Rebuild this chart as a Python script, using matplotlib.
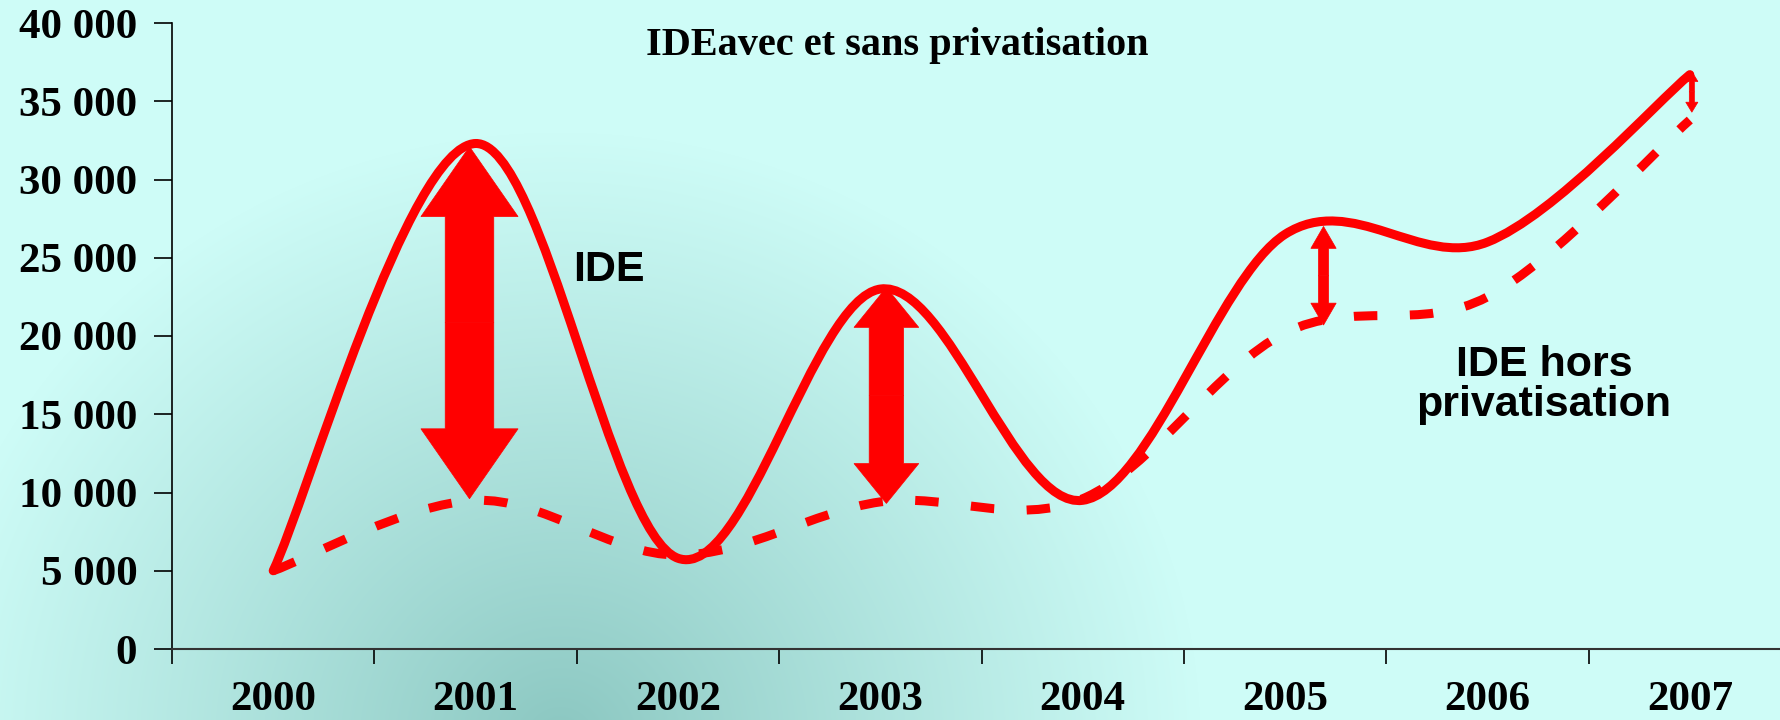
import numpy as np
import matplotlib
matplotlib.use("Agg")
import matplotlib.pyplot as plt
from matplotlib.path import Path
from matplotlib.patches import PathPatch, FancyArrow
from matplotlib.ticker import MultipleLocator, FuncFormatter

# data
years = ["2000", "2001", "2002", "2003", "2004", "2005", "2006", "2007"]
ide = [5000, 32300, 5800, 23000, 9500, 26500, 26000, 36700]
ide_hors_priv = [5000, 9500, 6000, 9400, 9600, 20200, 22500, 33800]
# arrows showing the privatisation gap: (year index, bottom, top)
gap_years = [0.97, 3.03, 5.19, 7.01]
gap_low = [9600, 9300, 20700, 34300]
gap_high = [32100, 23100, 27000, 36900]

red = "#ff0000"
light = np.array([206, 252, 247]) / 255
dark = np.array([138, 198, 192]) / 255


def smooth_path(xs, ys):
    # excel style smoothed line: bezier through the points (catmull-rom)
    pts = np.column_stack([xs, ys]).astype(float)
    n = len(pts)
    verts = [pts[0]]
    codes = [Path.MOVETO]
    for i in range(n - 1):
        p0 = pts[i - 1] if i > 0 else pts[i]
        p1 = pts[i]
        p2 = pts[i + 1]
        p3 = pts[i + 2] if i + 2 < n else pts[i + 1]
        c1 = p1 + (p2 - p0) / 6
        c2 = p2 - (p3 - p1) / 6
        verts += [c1, c2, p2]
        codes += [Path.CURVE4] * 3
    return Path(verts, codes)


fig = plt.figure(figsize=(17.8, 7.2), dpi=100)

# background gradient
bg = fig.add_axes([0, 0, 1, 1])
yy, xx = np.mgrid[0:720, 0:1780]
d = np.hypot((xx - 560) / 1.0, (yy - 740) / 0.95)
t = np.clip(d / 640, 0, 1) ** 0.9
img = dark[None, None, :] + (light - dark)[None, None, :] * t[..., None]
bg.imshow(img, aspect="auto", extent=[0, 1, 0, 1], origin="upper")
bg.axis("off")

ax = fig.add_axes([172 / 1780, 71 / 720, 1619 / 1780, 626 / 720])
ax.patch.set_alpha(0)
x = np.arange(len(years))

p1 = PathPatch(smooth_path(x, ide), fill=False, edgecolor=red, lw=6.5,
               joinstyle="round", capstyle="round")
ax.add_patch(p1)
p2 = PathPatch(smooth_path(x, ide_hors_priv), fill=False, edgecolor=red, lw=6.5,
               linestyle=(0, (2.6, 3.6)), capstyle="butt")
ax.add_patch(p2)

# double headed gap arrows
shaft = [0.24, 0.17, 0.05, 0.025]
heads = [0.48, 0.32, 0.125, 0.06]
hlen = [4470, 2550, 1400, 640]
for gx, lo, hi, w, hw, hl in zip(gap_years, gap_low, gap_high, shaft, heads, hlen):
    mid = (lo + hi) / 2
    for end in (hi, lo):
        ax.add_patch(FancyArrow(gx, mid, 0, end - mid, width=w, head_width=hw,
                                head_length=hl, length_includes_head=True,
                                color=red, lw=0.5))

ax.set_xlim(-0.5, 7.5)
ax.set_ylim(0, 40000)
ax.set_xticks(np.arange(-0.5, 8, 1))
ax.set_xticks(x, minor=True)
ax.set_xticklabels([])
ax.set_xticklabels(years, minor=True)
ax.tick_params(axis="x", which="major", length=11, width=1.2, direction="out")
ax.tick_params(axis="x", which="minor", length=0, pad=23)
ax.yaxis.set_major_locator(MultipleLocator(5000))
ax.yaxis.set_major_formatter(FuncFormatter(lambda v, p: f"{v:,.0f}".replace(",", " ")))
ax.tick_params(axis="y", length=13, width=1.2, pad=12)
for lab in ax.get_yticklabels() + ax.get_xticklabels(minor=True):
    lab.set_fontfamily("Liberation Serif")
    lab.set_fontweight("bold")
    lab.set_fontsize(31)
for s in ["top", "right"]:
    ax.spines[s].set_visible(False)
ax.spines["left"].set_linewidth(1.2)
ax.spines["bottom"].set_linewidth(1.5)
ax.spines["bottom"].set_color("#333333")

fig.text(897 / 1780, 1 - 45 / 720, "IDEavec et sans privatisation", ha="center",
         va="center", fontsize=29, fontweight="bold", family="Liberation Serif")
ax.text(1.48, 24200, "IDE", ha="left", va="center", fontsize=31,
        fontweight="bold", family="Liberation Sans")
ax.text(6.28, 16900, "IDE hors\nprivatisation", ha="center", va="center",
        fontsize=31, fontweight="bold", family="Liberation Sans", linespacing=1.0)

fig.savefig("out.png", dpi=100)
